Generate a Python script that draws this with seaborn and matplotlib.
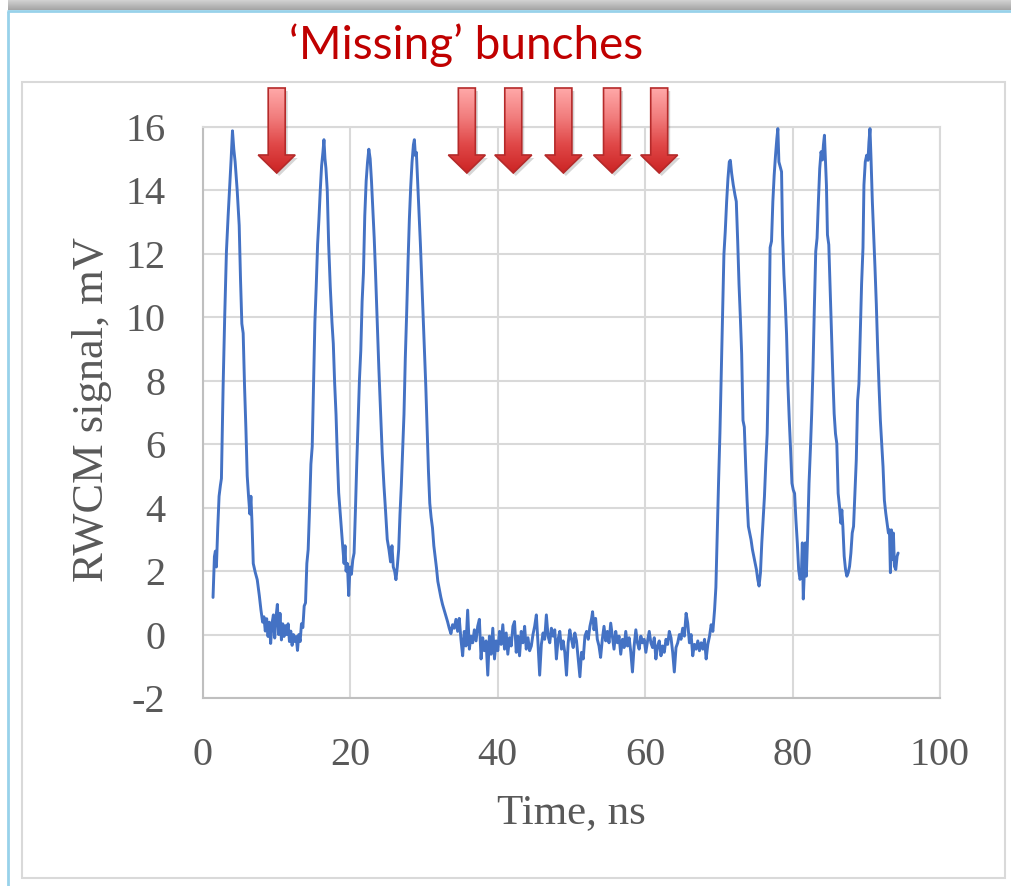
import numpy as np
import pandas as pd
import matplotlib
matplotlib.use("Agg")
import matplotlib.pyplot as plt
from matplotlib.patches import Polygon, Rectangle
from matplotlib.colors import LinearSegmentedColormap
import seaborn as sns

# ---------------- data ----------------
# first bunch train (4 bunches), time in ns
t_train1 = [1.36, 1.55, 1.68, 1.82, 2.0, 2.18, 2.36, 2.5, 2.73, 2.95,
            3.18, 3.41, 3.64, 3.82, 4.0, 4.18, 4.36, 4.64, 4.91, 5.09,
            5.27, 5.45, 5.64, 5.82, 6.0, 6.18, 6.36, 6.5, 6.64, 6.82,
            7.09, 7.36, 7.64, 7.86, 8.09, 8.27, 8.45, 8.64, 8.82, 9.0,
            9.18, 9.36, 9.55, 9.73, 9.91, 10.09, 10.27, 10.45, 10.64, 10.82,
            11.0, 11.18, 11.36, 11.55, 11.73, 11.91, 12.09, 12.27, 12.45, 12.64,
            12.82, 13.0, 13.18, 13.36, 13.55, 13.73, 13.91, 14.09, 14.27, 14.45,
            14.64, 14.82, 15.0, 15.18, 15.36, 15.55, 15.73, 15.91, 16.09, 16.27,
            16.41, 16.55, 16.68, 16.86, 17.05, 17.27, 17.5, 17.68, 17.86, 18.05,
            18.23, 18.41, 18.59, 18.77, 18.95, 19.14, 19.27, 19.41, 19.59, 19.77,
            19.95, 20.14, 20.32, 20.5, 20.68, 20.86, 21.05, 21.23, 21.41, 21.59,
            21.77, 21.95, 22.14, 22.32, 22.5, 22.68, 22.86, 23.05, 23.23, 23.41,
            23.64, 23.86, 24.09, 24.32, 24.55, 24.77, 25.0, 25.23, 25.45, 25.64,
            25.82, 26.0, 26.18, 26.36, 26.55, 26.73, 26.91, 27.09, 27.27, 27.45,
            27.64, 27.82, 28.0, 28.18, 28.36, 28.55, 28.68, 28.82, 28.95, 29.14,
            29.32, 29.5, 29.68, 29.86, 30.05, 30.23, 30.41, 30.59, 30.77, 30.95,
            31.14, 31.32, 31.5]
v_train1 = [1.17, 2.46, 2.63, 2.13, 3.36, 4.36, 4.7, 4.92, 7.83, 10.07,
            12.08, 13.2, 14.2, 15.0, 15.88, 15.3, 14.9, 14.0, 12.9, 11.2,
            9.8, 9.5, 7.8, 6.5, 5.0, 4.36, 3.8, 4.36, 3.58, 2.24,
            1.96, 1.73, 1.23, 0.78, 0.39, 0.56, 0.11, 0.5, -0.06, 0.39,
            -0.28, 0.34, 0.62, -0.11, 0.56, 0.95, 0.0, 0.67, -0.17, 0.34,
            -0.06, 0.28, 0.0, 0.34, -0.22, 0.11, -0.34, 0.0, -0.22, -0.06,
            -0.5, 0.0, -0.22, 0.34, 0.22, 0.9, 1.0, 2.24, 2.68, 3.9,
            5.37, 5.93, 7.83, 9.84, 10.96, 12.3, 13.09, 14.0, 14.77, 15.2,
            15.6, 15.0, 14.7, 14.0, 12.3, 10.96, 9.84, 9.17, 7.94, 6.94,
            5.6, 4.47, 3.9, 3.36, 2.8, 2.24, 2.8, 2.0, 2.24, 1.23,
            2.13, 1.9, 2.35, 2.57, 3.9, 5.37, 6.7, 8.05, 8.95, 10.5,
            11.4, 13.2, 14.3, 14.88, 15.3, 15.0, 14.3, 13.4, 12.5, 11.4,
            9.84, 8.39, 7.05, 5.7, 4.7, 3.9, 3.0, 2.68, 2.29, 2.8,
            2.13, 2.0, 1.73, 2.13, 2.68, 3.8, 4.7, 5.82, 6.94, 8.72,
            10.18, 11.74, 13.09, 14.1, 14.88, 15.44, 15.6, 15.1, 15.2, 14.2,
            13.2, 12.3, 11.2, 10.07, 8.95, 7.83, 6.49, 5.15, 4.14, 3.7,
            3.36, 2.8, 2.46]

# gap with the missing bunches
t_gap = [31.68, 31.86, 32.05, 32.27, 32.5, 32.73, 32.95, 33.18, 33.41, 33.64,
         33.86, 34.09, 34.32, 34.55, 34.77, 35.0, 35.23, 35.45, 35.68, 35.91,
         36.14, 36.36, 36.59, 36.82, 37.05, 37.27, 37.5, 37.73, 37.95, 38.18,
         38.41, 38.64, 38.86, 39.09, 39.32, 39.55, 39.77, 40.0, 40.23, 40.45,
         40.68, 40.91, 41.14, 41.36, 41.59, 41.82, 42.05, 42.27, 42.5, 42.73,
         42.95, 43.18, 43.41, 43.64, 43.86, 44.09, 44.32, 44.55, 44.77, 45.0,
         45.23, 45.45, 45.68, 45.91, 46.14, 46.36, 46.59, 46.82, 47.05, 47.27,
         47.5, 47.73, 47.95, 48.18, 48.41, 48.64, 48.86, 49.09, 49.32, 49.55,
         49.77, 50.0, 50.23, 50.45, 50.68, 50.91, 51.14, 51.36, 51.59, 51.82,
         52.05, 52.27, 52.5, 52.73, 52.86, 53.05, 53.27, 53.5, 53.73, 53.95,
         54.18, 54.41, 54.64, 54.86, 55.09, 55.32, 55.55, 55.77, 56.0, 56.23,
         56.45, 56.68, 56.91, 57.14, 57.36, 57.59, 57.82, 58.05, 58.27, 58.5,
         58.73, 58.95, 59.18, 59.41, 59.64, 59.86, 60.09, 60.32, 60.55, 60.77,
         61.0, 61.23, 61.45, 61.68, 61.91, 62.14, 62.36, 62.59, 62.82, 63.05,
         63.27, 63.5, 63.73, 63.95, 64.18, 64.41, 64.64, 64.86, 65.09, 65.32,
         65.55, 65.77, 66.0, 66.23, 66.45, 66.68, 66.91, 67.14, 67.36, 67.59,
         67.82, 68.05, 68.27, 68.5, 68.73, 68.95, 69.18, 69.41, 69.59]
v_gap = [2.1, 1.68, 1.45, 1.18, 0.95, 0.77, 0.6, 0.41, 0.2, 0.03,
         0.31, 0.2, 0.48, 0.1, 0.51, -0.15, -0.67, 0.1, -0.36, 0.77,
         -0.46, -0.05, -0.26, 0.15, -0.2, 0.26, 0.48, -0.77, -0.1, -0.51,
         -0.2, -1.28, -0.05, -0.62, 0.2, -0.77, -0.2, -0.51, 0.1, -0.31,
         0.31, -0.46, 0.05, -0.62, -0.1, -0.36, 0.26, 0.41, -0.56, -0.05,
         -0.67, 0.1, -0.26, 0.26, -0.46, -0.1, -0.51, -0.36, 0.0, 0.26,
         0.62, -0.26, -1.28, -0.31, 0.05, -0.15, 0.62, -0.05, -0.26, 0.2,
         -0.05, 0.15, -0.77, -0.15, 0.1, -0.46, -0.2, -0.56, -1.28, -0.26,
         0.15, -0.15, -0.41, 0.05, -0.2, -0.77, -1.33, -0.56, -0.77, -0.05,
         0.1, -0.15, 0.26, 0.51, 0.72, 0.15, 0.51, -0.15, -0.36, -0.72,
         -0.15, 0.26, -0.2, 0.1, -0.26, 0.36, -0.05, -0.46, 0.1, -0.26,
         -0.05, -0.62, -0.15, -0.41, 0.1, -0.36, -0.1, -0.56, -1.18, -0.36,
         0.15, -0.26, -0.46, -0.05, -0.26, -0.15, -0.56, -0.2, 0.1, -0.26,
         -0.41, -0.1, -0.77, -0.36, -0.2, -0.67, -0.36, -0.56, -0.15, -0.31,
         0.1, -0.1, -0.56, -1.18, -0.41, -0.26, 0.0, -0.15, 0.2, -0.05,
         0.67, 0.36, -0.26, 0.0, -0.67, -0.31, -0.46, -0.2, -0.51, -0.26,
         -0.46, -0.15, -0.77, -0.31, -0.05, 0.31, 0.1, 0.77, 1.49]

# second bunch train (4 bunches)
t_train2 = [69.77, 69.95, 70.14, 70.32, 70.5, 70.68, 70.86, 71.05, 71.23, 71.41,
            71.55, 71.73, 71.95, 72.18, 72.36, 72.55, 72.73, 72.91, 73.09, 73.27,
            73.45, 73.64, 73.82, 74.0, 74.18, 74.36, 74.55, 74.73, 74.91, 75.09,
            75.27, 75.45, 75.64, 75.82, 76.0, 76.18, 76.36, 76.55, 76.68, 76.82,
            76.95, 77.14, 77.32, 77.5, 77.68, 77.86, 78.0, 78.14, 78.32, 78.5,
            78.64, 78.82, 79.0, 79.18, 79.36, 79.55, 79.73, 79.91, 80.09, 80.27,
            80.45, 80.64, 80.82, 81.0, 81.18, 81.32, 81.45, 81.59, 81.73, 81.86,
            82.05, 82.23, 82.41, 82.59, 82.77, 82.95, 83.14, 83.32, 83.5, 83.68,
            83.86, 84.05, 84.18, 84.32, 84.45, 84.59, 84.73, 84.91, 85.09, 85.27,
            85.45, 85.64, 85.82, 86.0, 86.18, 86.36, 86.55, 86.68, 86.82, 87.0,
            87.18, 87.36, 87.55, 87.73, 87.91, 88.09, 88.27, 88.45, 88.64, 88.82,
            89.0, 89.18, 89.36, 89.55, 89.68, 89.86, 90.05, 90.23, 90.36, 90.5,
            90.64, 90.82, 91.0, 91.18, 91.36, 91.55, 91.73, 91.91, 92.09, 92.27,
            92.45, 92.64, 92.82, 93.0, 93.14, 93.27, 93.41, 93.55, 93.68, 93.82,
            94.0, 94.18, 94.32]
v_train2 = [3.2, 4.77, 6.35, 8.2, 10.0, 11.98, 12.7, 13.65, 14.38, 14.9,
            14.95, 14.54, 14.17, 13.86, 13.65, 12.4, 11.04, 10.0, 8.84, 6.75,
            6.54, 5.29, 4.24, 3.41, 3.2, 2.99, 2.68, 2.47, 2.26, 2.05,
            1.74, 1.53, 1.95, 2.89, 3.62, 4.35, 5.39, 6.33, 7.9, 10.0,
            12.2, 12.4, 13.65, 14.48, 15.1, 15.63, 15.95, 14.9, 14.75, 14.59,
            12.6, 11.35, 10.51, 9.47, 7.9, 6.75, 5.81, 4.77, 4.56, 4.45,
            3.62, 2.89, 2.05, 1.74, 1.84, 2.89, 1.12, 1.95, 2.89, 1.84,
            3.2, 4.77, 5.81, 6.96, 8.42, 10.3, 12.08, 12.5, 13.65, 14.69,
            15.22, 14.96, 15.43, 15.74, 15.01, 14.17, 12.6, 12.29, 10.93, 9.57,
            8.22, 6.96, 6.33, 6.02, 4.45, 4.04, 3.51, 3.93, 3.41, 2.47,
            2.05, 1.84, 1.95, 2.15, 2.57, 3.2, 3.41, 4.45, 5.5, 7.38,
            7.9, 9.47, 11.04, 12.19, 14.17, 14.9, 15.11, 14.95, 15.53, 15.95,
            15.01, 13.65, 12.6, 11.56, 10.41, 8.95, 7.8, 6.75, 6.02, 5.29,
            4.24, 3.83, 3.51, 3.2, 3.3, 1.95, 3.3, 2.36, 3.2, 2.15,
            2.05, 2.47, 2.57]

# times of the 'missing' bunch markers (ns)
arrow_times = [10.0, 35.8, 42.1, 48.9, 55.5, 61.9]
arrow_tip_mV = 14.55

x_ticks = [0, 20, 40, 60, 80, 100]
y_ticks = [-2, 0, 2, 4, 6, 8, 10, 12, 14, 16]
title_text = "\u2018Missing\u2019 bunches"
x_label = "Time, ns"
y_label = "RWCM signal, mV"

# ---------------- figure ----------------
df = pd.DataFrame({"time": t_train1 + t_gap + t_train2,
                   "signal": v_train1 + v_gap + v_train2})

sns.set_theme(style="white")
plt.rcParams["font.family"] = ["Liberation Serif", "DejaVu Serif"]
plt.rcParams["axes.unicode_minus"] = False

W, H = 1012, 886
fig = plt.figure(figsize=(W / 100, H / 100), dpi=100)
fig.patch.set_facecolor("white")

ax = fig.add_axes([203 / W, 1 - 698 / H, (940 - 203) / W, (698 - 127) / H])
sns.lineplot(data=df, x="time", y="signal", ax=ax, color="#4472C4",
             linewidth=2.1, estimator=None, sort=False, zorder=3)
ax.lines[0].set_solid_joinstyle("round")

ax.set_xlim(0, 100)
ax.set_ylim(-2, 16)
ax.set_xticks(x_ticks)
ax.set_xticklabels([str(v) for v in x_ticks])
ax.set_yticks(y_ticks)
ax.set_yticklabels([str(v) for v in y_ticks])
ax.grid(True, color="#D9D9D9", linewidth=1.5)
ax.set_axisbelow(True)
ax.tick_params(axis="both", length=0, labelsize=29, labelcolor="#595959")
ax.tick_params(axis="y", pad=27)
ax.tick_params(axis="x", pad=28)
for side in ["left", "bottom"]:
    ax.spines[side].set_color("#BFBFBF")
    ax.spines[side].set_linewidth(1.5)
for side in ["top", "right"]:
    ax.spines[side].set_color("#D9D9D9")
    ax.spines[side].set_linewidth(1.5)

ax.set_xlabel(x_label, fontsize=31, color="#595959")
ax.set_ylabel(y_label, fontsize=32, color="#595959")
ax.xaxis.label.set_va("center")
ax.yaxis.label.set_va("center")
ax.xaxis.set_label_coords(0.5, (698 - 813) / (698 - 127))
ax.yaxis.set_label_coords((92 - 203) / (940 - 203), 0.505)

# ---------------- overlay: frame, title, arrows (pixel coords) ----------------
ov = fig.add_axes([0, 0, 1, 1], zorder=10)
ov.patch.set_alpha(0)
ov.axis("off")

# top shadow band
band = np.linspace(0, 1, 40).reshape(-1, 1)
band_cmap = LinearSegmentedColormap.from_list("band", ["#D2D2D2", "#A4A4A4"])
ov.imshow(band, extent=[8, W, H - 10, H], cmap=band_cmap, aspect="auto",
          origin="upper", zorder=1)
# light blue slide border
ov.plot([8, 8], [0, H - 11], color="#98D2EA", lw=2.0, solid_capstyle="butt")
ov.plot([7, W], [H - 11, H - 11], color="#98D2EA", lw=2.0, solid_capstyle="butt")
# grey chart box
ov.add_patch(Rectangle((22, H - 878), 1005 - 22, 878 - 82, fill=False,
                       edgecolor="#D9D9D9", lw=1.5))

# arrows
arrow_cmap = LinearSegmentedColormap.from_list(
    "arrow", ["#FFA8A8", "#F27E7E", "#E04848", "#CC2424"])
grad = np.linspace(0, 1, 100).reshape(-1, 1)
shaft_hw, head_hw, head_h, total_h = 8.5, 18.5, 18, 85
for t in arrow_times:
    cx, ty = ax.transData.transform((t, arrow_tip_mV))
    verts = [(cx, ty), (cx + head_hw, ty + head_h), (cx + shaft_hw, ty + head_h),
             (cx + shaft_hw, ty + total_h), (cx - shaft_hw, ty + total_h),
             (cx - shaft_hw, ty + head_h), (cx - head_hw, ty + head_h)]
    shadow = Polygon([(x + 2.5, y - 3) for x, y in verts], closed=True,
                     facecolor="#000000", edgecolor="none", alpha=0.16, zorder=2)
    ov.add_patch(shadow)
    poly = Polygon(verts, closed=True, facecolor="none", edgecolor="#B52A2A",
                   lw=1.2, zorder=4)
    ov.add_patch(poly)
    im = ov.imshow(grad, extent=[cx - head_hw - 1, cx + head_hw + 1, ty, ty + total_h],
                   cmap=arrow_cmap, aspect="auto", origin="upper", zorder=3)
    im.set_clip_path(poly)

ov.set_xlim(0, W)
ov.set_ylim(0, H)

fig.text(466 / W, 1 - 45 / H, title_text, ha="center", va="center",
         fontsize=33, color="#C00000", family=["Lato", "DejaVu Sans"])

fig.savefig("out.png", dpi=100, facecolor="white")
